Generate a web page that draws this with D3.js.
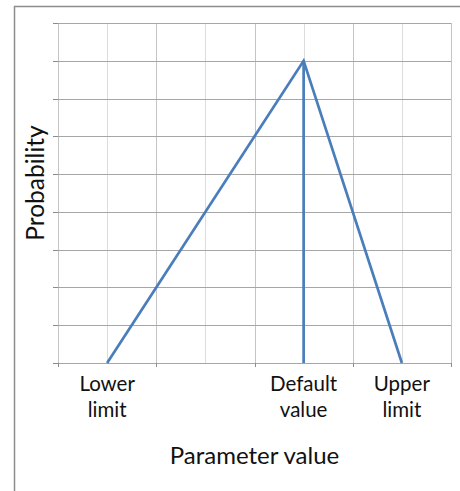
<!DOCTYPE html>
<html lang="en">

<head>
    <meta charset="UTF-8">
    <title>Triangular distribution</title>
    <script src="https://d3js.org/d3.v7.min.js"></script>
    <style>
        body {
            margin: 0;
            background: #fff;
        }

        text {
            font-family: Lato, "Open Sans", sans-serif;
            fill: #111;
        }

        .grid line {
            shape-rendering: crispEdges;
        }

        .grid path {
            display: none;
        }

        .series {
            fill: none;
            stroke: #4a7ebb;
            stroke-width: 2.7px;
        }
    </style>
</head>

<body>
    <div id="chart"></div>

    <script>
        // data
        const categories = ["Lower limit", "Default value", "Upper limit"];
        const categoryPos = [1, 5, 7];
        const probability = [0, 8, 0];
        const xTicksMajor = [0, 2, 4, 6, 8];
        const xTicksMinor = [1, 3, 5, 7];
        const yTicks = [0, 1, 2, 3, 4, 5, 6, 7, 8, 9];

        const width = 460;
        const height = 491;
        const plot = { left: 58, right: 451, top: 23, bottom: 363 };

        const x = d3.scaleLinear().domain([0, 8]).range([plot.left, plot.right]);
        const y = d3.scaleLinear().domain([0, 9]).range([plot.bottom, plot.top]);

        const svg = d3.select("#chart").append("svg")
            .attr("width", width)
            .attr("height", height);

        // chart frame (only top and left edges show)
        svg.append("rect")
            .attr("x", 14.5).attr("y", 6.5)
            .attr("width", 480).attr("height", 520)
            .attr("fill", "none")
            .attr("stroke", "#8c8c8c")
            .attr("stroke-width", 1.5);

        // vertical minor grid
        svg.append("g").attr("class", "grid")
            .attr("transform", `translate(0,${plot.bottom})`)
            .call(d3.axisBottom(x).tickValues(xTicksMinor).tickSize(-(plot.bottom - plot.top)).tickFormat(""))
            .selectAll("line").attr("stroke", "#dcdcdc");

        // vertical major grid
        svg.append("g").attr("class", "grid")
            .attr("transform", `translate(0,${plot.bottom})`)
            .call(d3.axisBottom(x).tickValues(xTicksMajor).tickSize(-(plot.bottom - plot.top)).tickFormat(""))
            .selectAll("line").attr("stroke", "#c4c4c4");

        // horizontal grid
        svg.append("g").attr("class", "grid")
            .attr("transform", `translate(${plot.left},0)`)
            .call(d3.axisLeft(y).tickValues(yTicks).tickSize(-(plot.right - plot.left)).tickFormat(""))
            .selectAll("line").attr("stroke", "#a6a6a6");

        // axes with outside ticks
        const xAxis = svg.append("g").attr("class", "grid")
            .attr("transform", `translate(0,${plot.bottom})`)
            .call(d3.axisBottom(x).tickValues(xTicksMajor).tickSize(4).tickSizeOuter(0).tickFormat(""));
        xAxis.selectAll("line").attr("stroke", "#8c8c8c");
        xAxis.select(".domain").style("display", null).attr("stroke", "#8c8c8c");

        const yAxis = svg.append("g").attr("class", "grid")
            .attr("transform", `translate(${plot.left},0)`)
            .call(d3.axisLeft(y).tickValues(yTicks).tickSize(5).tickSizeOuter(0).tickFormat(""));
        yAxis.selectAll("line").attr("stroke", "#8c8c8c");
        yAxis.select(".domain").style("display", null).attr("stroke", "#8c8c8c");

        // series
        const pts = categoryPos.map((p, i) => [p, probability[i]]);
        const line = d3.line().x(d => x(d[0])).y(d => y(d[1]));

        svg.append("path")
            .attr("class", "series")
            .attr("d", line(pts));

        const peak = pts[d3.maxIndex(pts, d => d[1])];
        svg.append("path")
            .attr("class", "series")
            .attr("d", line([[peak[0], 0], peak]));

        // category labels, two lines each
        const labels = svg.append("g")
            .attr("font-size", 20.5)
            .attr("text-anchor", "middle");
        categories.forEach((c, i) => {
            const words = c.split(" ");
            const t = labels.append("text")
                .attr("x", x(categoryPos[i]))
                .attr("y", plot.bottom + 28);
            words.forEach((w, j) => {
                t.append("tspan")
                    .attr("x", x(categoryPos[i]))
                    .attr("dy", j === 0 ? 0 : 26)
                    .text(w);
            });
        });

        // axis titles
        svg.append("text")
            .attr("x", (plot.left + plot.right) / 2)
            .attr("y", 464)
            .attr("text-anchor", "middle")
            .attr("font-size", 24)
            .text("Parameter value");

        svg.append("text")
            .attr("transform", `translate(44,${(plot.top + plot.bottom) / 2 - 10}) rotate(-90)`)
            .attr("text-anchor", "middle")
            .attr("font-size", 24.5)
            .text("Probability");
    </script>
</body>

</html>
